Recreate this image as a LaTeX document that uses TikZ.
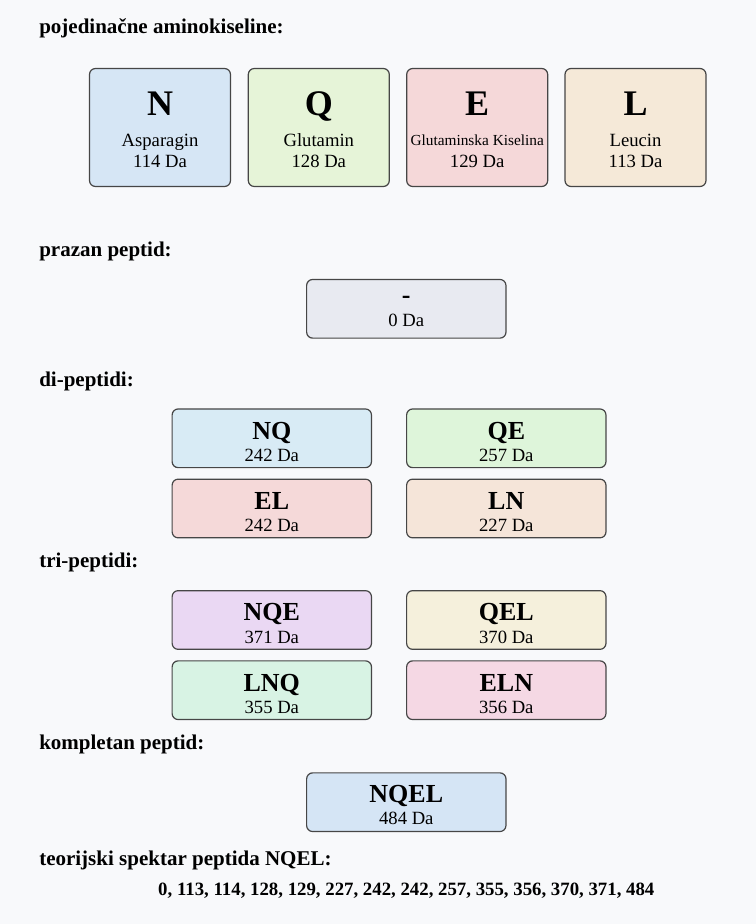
\documentclass[tikz,border=0pt]{standalone}
\usepackage{fontspec}
\setmainfont{Liberation Serif}
\usepackage{tikz}

\definecolor{bgcol}{RGB}{248,249,251}
\definecolor{edgecol}{RGB}{70,70,70}
\definecolor{colN}{RGB}{214,230,245}
\definecolor{colQ}{RGB}{230,244,216}
\definecolor{colE}{RGB}{245,216,217}
\definecolor{colL}{RGB}{245,233,216}
\definecolor{colEmpty}{RGB}{232,234,241}
\definecolor{colNQ}{RGB}{216,235,245}
\definecolor{colQE}{RGB}{222,245,218}
\definecolor{colEL}{RGB}{245,217,217}
\definecolor{colLN}{RGB}{245,229,217}
\definecolor{colNQE}{RGB}{234,216,243}
\definecolor{colQEL}{RGB}{245,240,220}
\definecolor{colLNQ}{RGB}{216,243,228}
\definecolor{colELN}{RGB}{245,216,228}
\definecolor{colNQEL}{RGB}{213,229,245}

\tikzset{
  card/.style={draw=edgecol, line width=0.9pt, rounded corners=4.5pt, inner sep=0pt},
  single/.style={card, minimum width=105.75pt, minimum height=88.5pt},
  pepbox/.style={card, minimum width=149.5pt, minimum height=44pt},
  head/.style={anchor=base west, inner sep=0pt, font=\bfseries\fontsize{15.75}{19}\selectfont},
  bigsym/.style={anchor=base, inner sep=0pt, font=\bfseries\fontsize{27}{32}\selectfont},
  pepname/.style={anchor=base, inner sep=0pt, font=\bfseries\fontsize{19.5}{23}\selectfont},
  txt/.style={anchor=base, inner sep=0pt, font=\fontsize{14}{16}\selectfont},
  smalltxt/.style={anchor=base, inner sep=0pt, font=\fontsize{11.5}{13}\selectfont},
}

\begin{document}
\begin{tikzpicture}[x=0.75pt,y=0.75pt,yscale=-1,xscale=1]
%Background
\path[fill=bgcol] (0,0) rectangle (756,924);

% Heading
\node[head] (h-single) at (39,34) {pojedinačne aminokiseline:};

%Shape: single amino acids
\node[single, fill=colN] (boxN) at (160,127.5) {};
\node[single, fill=colQ] (boxQ) at (318.8,127.5) {};
\node[single, fill=colE] (boxE) at (477.2,127.5) {};
\node[single, fill=colL] (boxL) at (635.5,127.5) {};

% Text Node
\node[bigsym] (symN) at (160,115) {N};
\node[txt] (nameN) at (160,146) {Asparagin};
\node[txt] (massN) at (160,167.7) {114 Da};
\node[bigsym] (symQ) at (318.8,115) {Q};
\node[txt] (nameQ) at (318.8,146) {Glutamin};
\node[txt] (massQ) at (318.8,167.7) {128 Da};
\node[bigsym] (symE) at (477.2,115) {E};
\node[smalltxt] (nameE) at (477.2,145) {Glutaminska Kiselina};
\node[txt] (massE) at (477.2,167.7) {129 Da};
\node[bigsym] (symL) at (635.5,115) {L};
\node[txt] (nameL) at (635.5,146) {Leucin};
\node[txt] (massL) at (635.5,167.7) {113 Da};

% Heading
\node[head] (h-empty) at (39,256) {prazan peptid:};
\node[pepbox, fill=colEmpty] (boxEmpty) at (406.3,308.8) {};
\node[pepname] (nameEmpty) at (406.3,303) {-};
\node[txt] (massEmpty) at (406.3,326.7) {0 Da};

% Heading
\node[head] (h-di) at (39,386) {di-peptidi:};
\node[pepbox, fill=colNQ] (boxNQ) at (271.8,438.3) {};
\node[pepbox, fill=colQE] (boxQE) at (506.3,438.3) {};
\node[pepbox, fill=colEL] (boxEL) at (271.8,508.5) {};
\node[pepbox, fill=colLN] (boxLN) at (506.3,508.5) {};
\node[pepname] (nameNQ) at (271.8,439) {NQ};
\node[txt] (massNQ) at (271.8,461.7) {242 Da};
\node[pepname] (nameQE) at (506.3,439) {QE};
\node[txt] (massQE) at (506.3,461.7) {257 Da};
\node[pepname] (nameEL) at (271.8,509.3) {EL};
\node[txt] (massEL) at (271.8,531.7) {242 Da};
\node[pepname] (nameLN) at (506.3,509.3) {LN};
\node[txt] (massLN) at (506.3,531.7) {227 Da};

% Heading
\node[head] (h-tri) at (39,567) {tri-peptidi:};
\node[pepbox, fill=colNQE] (boxNQE) at (271.8,620) {};
\node[pepbox, fill=colQEL] (boxQEL) at (506.3,620) {};
\node[pepbox, fill=colLNQ] (boxLNQ) at (271.8,690.2) {};
\node[pepbox, fill=colELN] (boxELN) at (506.3,690.2) {};
\node[pepname] (nameNQE) at (271.8,620.7) {NQE};
\node[txt] (massNQE) at (271.8,643.3) {371 Da};
\node[pepname] (nameQEL) at (506.3,620.7) {QEL};
\node[txt] (massQEL) at (506.3,643.3) {370 Da};
\node[pepname] (nameLNQ) at (271.8,691) {LNQ};
\node[txt] (massLNQ) at (271.8,713.3) {355 Da};
\node[pepname] (nameELN) at (506.3,691) {ELN};
\node[txt] (massELN) at (506.3,713.3) {356 Da};

% Heading
\node[head] (h-full) at (39,749) {kompletan peptid:};
\node[pepbox, fill=colNQEL] (boxNQEL) at (406.3,802.2) {};
\node[pepname] (nameNQEL) at (406.3,802.3) {NQEL};
\node[txt] (massNQEL) at (406.3,824.3) {484 Da};

% Heading
\node[head] (h-spec) at (39,865) {teorijski spektar peptida NQEL:};
\node[txt, font=\bfseries\fontsize{14.1}{16}\selectfont] (spectrum) at (406.3,895) {0, 113, 114, 128, 129, 227, 242, 242, 257, 355, 356, 370, 371, 484};

\end{tikzpicture}
\end{document}
